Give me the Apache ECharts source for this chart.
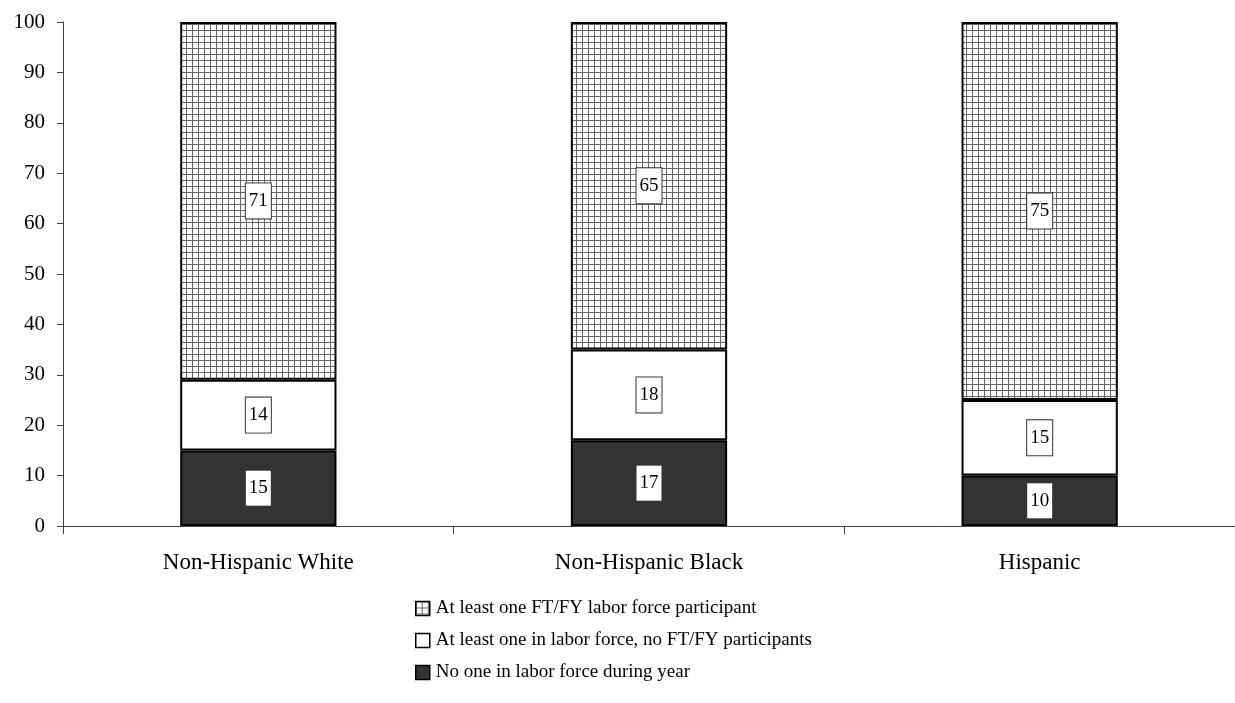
<!DOCTYPE html>
<html>
<head>
<meta charset="utf-8">
<script src="https://cdn.jsdelivr.net/npm/echarts@6/dist/echarts.min.js"></script>
<style>
  html, body { margin: 0; padding: 0; background: #fff; }
  #chart { width: 1235px; height: 703px; }
</style>
</head>
<body>
<div id="chart"></div>
<script>
const categories = ['Non-Hispanic White', 'Non-Hispanic Black', 'Hispanic']
const noOne = [15, 17, 10]
const noFullTime = [14, 18, 15]
const fullTime = [71, 65, 75]
const yTicks = [0, 10, 20, 30, 40, 50, 60, 70, 80, 90, 100]

const FONT = '"Liberation Serif", "Times New Roman", serif'

// grid hatch used for the FT/FY segment
function gridPattern() {
    const s = 6
    const c = document.createElement('canvas')
    c.width = s
    c.height = s
    const ctx = c.getContext('2d')
    ctx.fillStyle = '#fff'
    ctx.fillRect(0, 0, s, s)
    ctx.fillStyle = '#666'
    ctx.fillRect(0, 0, s, 1)
    ctx.fillRect(0, 0, 1, s)
    return c
}

const labelStyle = {
    show: true,
    position: 'inside',
    color: '#000',
    fontFamily: FONT,
    fontSize: 19,
    backgroundColor: '#fff',
    borderColor: '#333',
    borderWidth: 1,
    padding: [9, 3, 7, 3]
}

function makeSeries(name, data, color) {
    return {
        name: name,
        type: 'bar',
        stack: 'total',
        barWidth: '40%',
        data: data,
        itemStyle: { color: color, borderColor: '#000', borderWidth: 2 },
        label: labelStyle
    }
}

const chart = echarts.init(document.getElementById('chart'))
chart.setOption({
    backgroundColor: '#fff',
    animation: false,
    grid: { left: 63, right: 0, top: 22, bottom: 177 },
    legend: {
        orient: 'vertical',
        left: 410,
        top: 594,
        itemWidth: 14,
        itemHeight: 14,
        itemGap: 13,
        icon: 'rect',
        textStyle: { fontFamily: FONT, fontSize: 19, color: '#000', padding: [0, 0, 0, 1] },
        data: [
            'At least one FT/FY labor force participant',
            'At least one in labor force, no FT/FY participants',
            'No one in labor force during year'
        ],
        itemStyle: { borderColor: '#000', borderWidth: 1.5 }
    },
    xAxis: {
        type: 'category',
        data: categories,
        axisLine: { lineStyle: { color: '#444', width: 1 } },
        axisTick: { show: true, length: 8, lineStyle: { color: '#444' } },
        axisLabel: { fontFamily: FONT, fontSize: 23, color: '#000', margin: 25 }
    },
    yAxis: {
        type: 'value',
        min: yTicks[0],
        max: yTicks[yTicks.length - 1],
        interval: 10,
        splitLine: { show: false },
        axisLine: { show: true, lineStyle: { color: '#444', width: 1 } },
        axisTick: { show: true, length: 6, lineStyle: { color: '#444' } },
        axisLabel: { fontFamily: FONT, fontSize: 21, color: '#000', margin: 18 }
    },
    series: [
        makeSeries('No one in labor force during year', noOne, '#333333'),
        makeSeries('At least one in labor force, no FT/FY participants', noFullTime, '#ffffff'),
        makeSeries('At least one FT/FY labor force participant', fullTime, { image: gridPattern(), repeat: 'repeat' })
    ]
})
</script>
</body>
</html>
